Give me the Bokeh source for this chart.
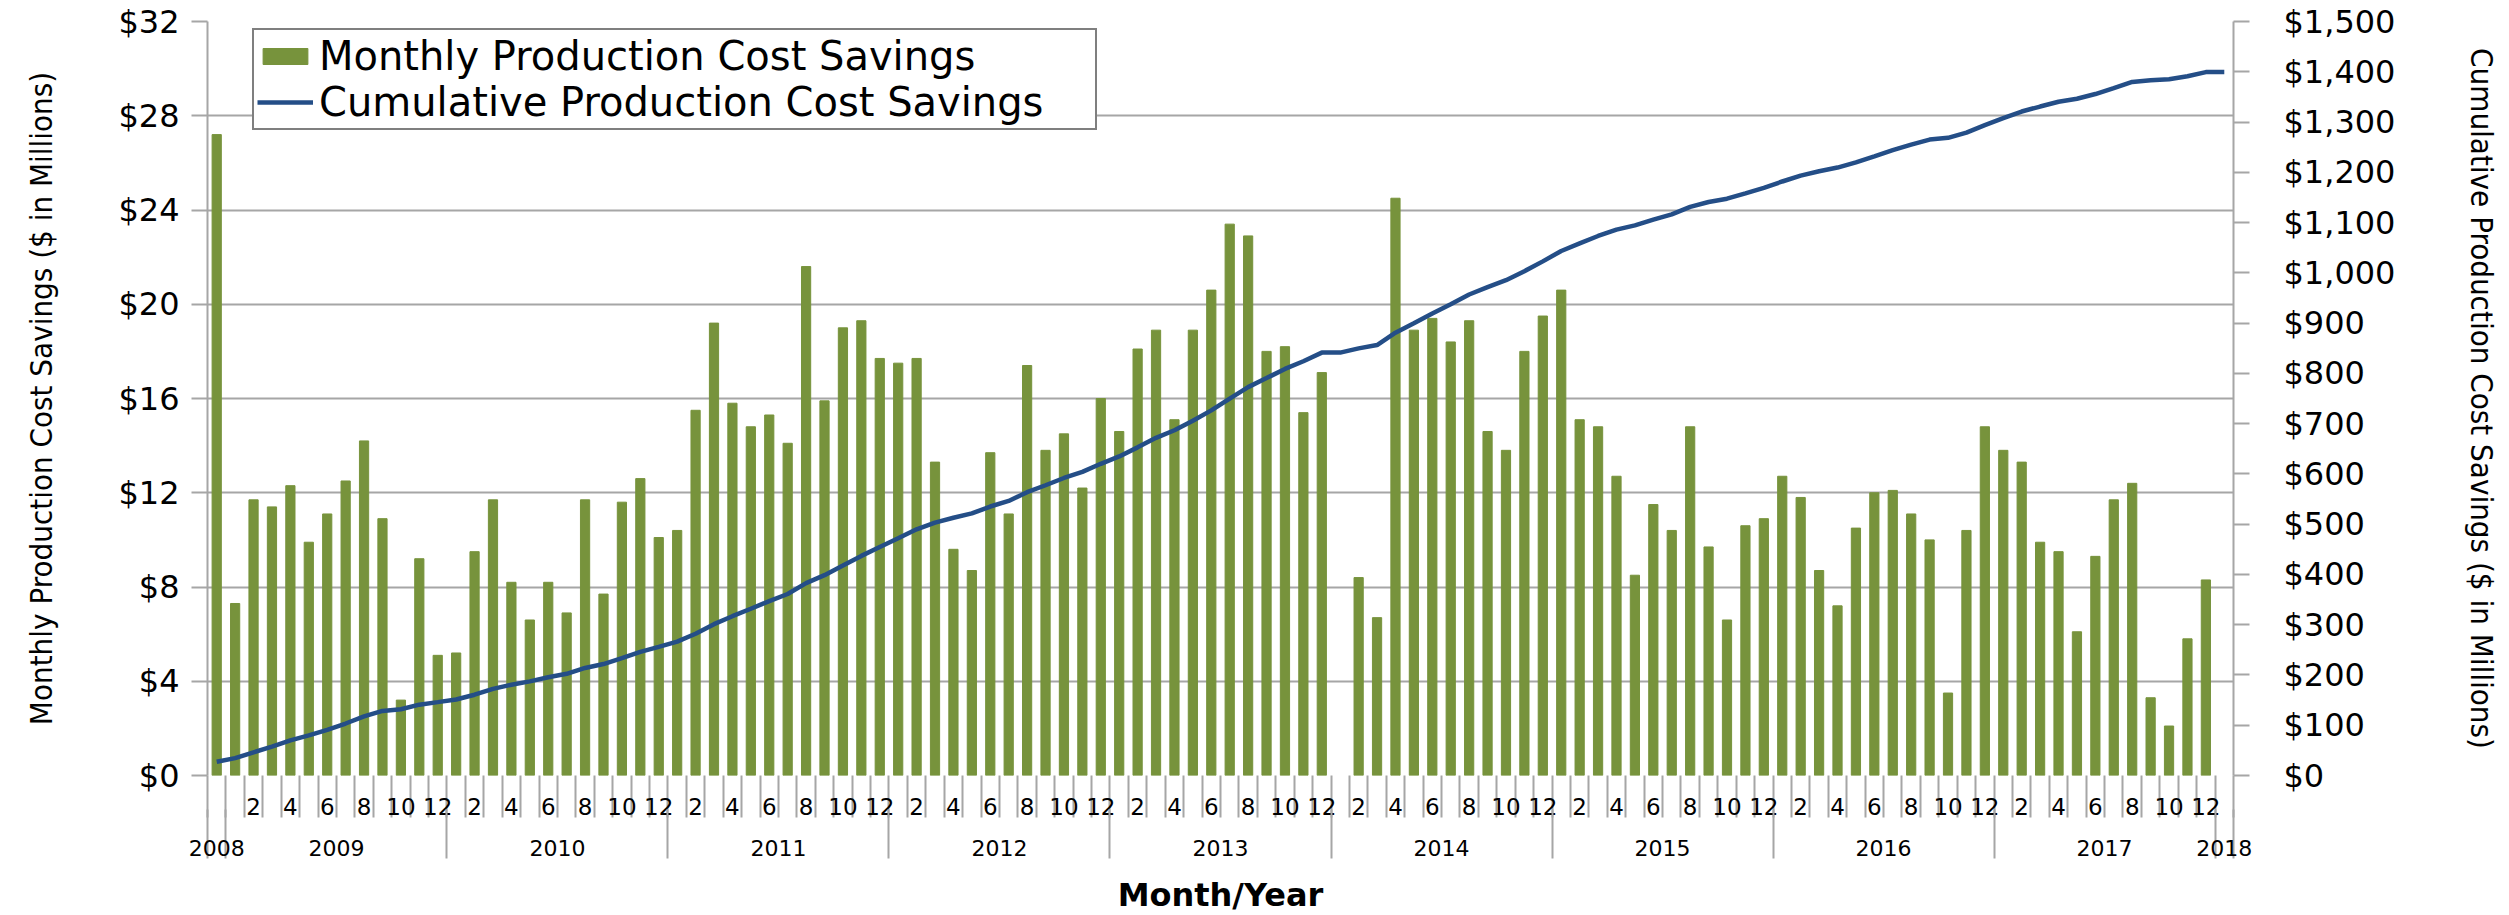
from bokeh.plotting import figure
from bokeh.models import (Range1d, LinearAxis, FixedTicker, NumeralTickFormatter,
                          CustomJSTickFormatter, ColumnDataSource, Legend, LegendItem)
from bokeh.embed import file_html
from bokeh.resources import INLINE

# ---------------- data ----------------
years = ["2008", "2009", "2010", "2011", "2012", "2013",
         "2014", "2015", "2016", "2017", "2018"]
month_tick_labels = ["2", "4", "6", "8", "10", "12"]

# monthly production cost savings ($ millions), one list per year
monthly_2008 = [27.2]                                   # December 2008 only
monthly_2009 = [7.3, 11.7, 11.4, 12.3, 9.9, 11.1, 12.5, 14.2, 10.9, 3.2, 9.2, 5.1]
monthly_2010 = [5.2, 9.5, 11.7, 8.2, 6.6, 8.2, 6.9, 11.7, 7.7, 11.6, 12.6, 10.1]
monthly_2011 = [10.4, 15.5, 19.2, 15.8, 14.8, 15.3, 14.1, 21.6, 15.9, 19.0, 19.3, 17.7]
monthly_2012 = [17.5, 17.7, 13.3, 9.6, 8.7, 13.7, 11.1, 17.4, 13.8, 14.5, 12.2, 16.0]
monthly_2013 = [14.6, 18.1, 18.9, 15.1, 18.9, 20.6, 23.4, 22.9, 18.0, 18.2, 15.4, 17.1]
monthly_2014 = [None, 8.4, 6.7, 24.5, 18.9, 19.4, 18.4, 19.3, 14.6, 13.8, 18.0, 19.5]
monthly_2015 = [20.6, 15.1, 14.8, 12.7, 8.5, 11.5, 10.4, 14.8, 9.7, 6.6, 10.6, 10.9]
monthly_2016 = [12.7, 11.8, 8.7, 7.2, 10.5, 12.0, 12.1, 11.1, 10.0, 3.5, 10.4, 14.8]
monthly_2017 = [13.8, 13.3, 9.9, 9.5, 6.1, 9.3, 11.7, 12.4, 3.3, 2.1, 5.8, 8.3]
monthly_2018 = [None]                                   # January 2018, no bar

# cumulative production cost savings ($ millions), one value per month slot
cumulative = [
    27.2,
    34.5, 46.2, 57.6, 69.9, 79.8, 90.9, 103.4, 117.6, 128.5, 131.7, 140.9, 146.0,
    151.2, 160.7, 172.4, 180.6, 187.2, 195.4, 202.3, 214.0, 221.7, 233.3, 245.9, 256.0,
    266.4, 281.9, 301.1, 316.9, 331.7, 347.0, 361.1, 382.7, 398.6, 417.6, 436.9, 454.6,
    472.1, 489.8, 503.1, 512.7, 521.4, 535.1, 546.2, 563.6, 577.4, 591.9, 604.1, 620.1,
    634.7, 652.8, 671.7, 686.8, 705.7, 726.3, 749.7, 772.6, 790.6, 808.8, 824.2, 841.3,
    841.3, 849.7, 856.4, 880.9, 899.8, 919.2, 937.6, 956.9, 971.5, 985.3, 1003.3, 1022.8,
    1043.4, 1058.5, 1073.3, 1086.0, 1094.5, 1106.0, 1116.4, 1131.2, 1140.9, 1147.5, 1158.1, 1169.0,
    1181.7, 1193.5, 1202.2, 1209.4, 1219.9, 1231.9, 1244.0, 1255.1, 1265.1, 1268.6, 1279.0, 1293.8,
    1307.6, 1320.9, 1330.8, 1340.3, 1346.4, 1355.7, 1367.4, 1379.8, 1383.1, 1385.2, 1391.0, 1399.3,
    1399.3,
]

left_ticks = [0, 4, 8, 12, 16, 20, 24, 28, 32]
right_ticks = [0, 100, 200, 300, 400, 500, 600, 700, 800, 900, 1000,
               1100, 1200, 1300, 1400, 1500]

# ---------------- derived layout ----------------
monthly_by_year = [monthly_2008, monthly_2009, monthly_2010, monthly_2011, monthly_2012,
                   monthly_2013, monthly_2014, monthly_2015, monthly_2016, monthly_2017,
                   monthly_2018]
monthly = []
for lst in monthly_by_year:
    monthly.extend([float("nan") if v is None else v for v in lst])
n_slots = len(monthly)                     # 110 month slots
slot_x = [i + 0.5 for i in range(n_slots)]

group_start, group_size = [], []
pos = 0
for lst in monthly_by_year:
    group_start.append(pos)
    group_size.append(len(lst))
    pos += len(lst)
year_x = [s + n / 2 for s, n in zip(group_start, group_size)]
year_edges = list(group_start) + [n_slots]          # long separators incl. both ends

mlab_x, mlab_t = [], []
for s, n in zip(group_start, group_size):
    if n == 12:
        for k, lab in enumerate(month_tick_labels):
            mlab_x.append(s + (2 * k + 1) + 0.5)
            mlab_t.append(lab)
month_edges = list(range(0, n_slots + 1))

GRID = "#A6A6A6"
GREEN = "#77933C"
BLUE = "#244E87"
TITLE_FONT = "DejaVu Sans Condensed, Liberation Sans Narrow, Liberation Sans"

p = figure(frame_width=2026, frame_height=754,
           x_range=Range1d(0, n_slots), y_range=Range1d(0, 32),
           output_backend="svg", toolbar_location=None, x_axis_location=None,
           min_border_left=207, min_border_right=274,
           min_border_top=21, min_border_bottom=138)
p.outline_line_color = None
p.background_fill_color = "white"
p.border_fill_color = "white"
p.xgrid.visible = False
p.ygrid.ticker = FixedTicker(ticks=left_ticks)
p.ygrid.grid_line_color = GRID
p.ygrid.grid_line_width = 2

p.extra_y_ranges = {"cum": Range1d(0, 1500)}

# ---- left axis
ya = p.yaxis[0]
ya.ticker = FixedTicker(ticks=left_ticks)
ya.formatter = NumeralTickFormatter(format="$0")
ya.axis_line_color = GRID
ya.axis_line_width = 2
ya.major_tick_line_color = GRID
ya.major_tick_line_width = 2
ya.major_tick_out = 16
ya.major_tick_in = 0
ya.minor_tick_line_color = None
ya.major_label_text_font = "DejaVu Sans"
ya.major_label_text_font_size = "32px"
ya.major_label_text_color = "black"
ya.major_label_standoff = 12
ya.axis_label = "Monthly Production Cost Savings ($ in Millions)"
ya.axis_label_text_font = TITLE_FONT
ya.axis_label_text_font_size = "31px"
ya.axis_label_text_font_style = "normal"
ya.axis_label_text_color = "black"
ya.axis_label_standoff = 56

# ---- right axis
ra = LinearAxis(y_range_name="cum", ticker=FixedTicker(ticks=right_ticks),
                formatter=NumeralTickFormatter(format="$0,0"))
ra.axis_line_color = GRID
ra.axis_line_width = 2
ra.major_tick_line_color = GRID
ra.major_tick_line_width = 2
ra.major_tick_out = 16
ra.major_tick_in = 0
ra.minor_tick_line_color = None
ra.major_label_text_font = "DejaVu Sans"
ra.major_label_text_font_size = "32px"
ra.major_label_text_color = "black"
ra.major_label_standoff = 34
ra.axis_label = "Cumulative Production Cost Savings ($ in Millions)"
ra.axis_label_text_font = TITLE_FONT
ra.axis_label_text_font_size = "31px"
ra.axis_label_text_font_style = "normal"
ra.axis_label_text_color = "black"
ra.axis_label_standoff = 66
p.add_layout(ra, "right")

# ---- month axis (short separators + even-month labels)
LABEL_JS = "const i = xs.indexOf(tick); return i >= 0 ? ts[i] : '';"
xm = LinearAxis(ticker=FixedTicker(ticks=mlab_x, minor_ticks=month_edges),
                formatter=CustomJSTickFormatter(args=dict(xs=mlab_x, ts=mlab_t), code=LABEL_JS))
xm.axis_line_color = None
xm.major_tick_line_color = None
xm.major_tick_out = 0
xm.major_tick_in = 0
xm.minor_tick_line_color = GRID
xm.minor_tick_line_width = 2
xm.minor_tick_out = 42
xm.minor_tick_in = 0
xm.major_label_text_font = "DejaVu Sans"
xm.major_label_text_font_size = "23px"
xm.major_label_text_color = "black"
xm.major_label_standoff = -20
p.add_layout(xm, "below")

# ---- year axis (long separators + year labels + title)
xy = LinearAxis(ticker=FixedTicker(ticks=year_x, minor_ticks=year_edges),
                formatter=CustomJSTickFormatter(args=dict(xs=year_x, ts=years), code=LABEL_JS))
xy.axis_line_color = None
xy.major_tick_line_color = None
xy.major_tick_out = 0
xy.major_tick_in = 0
xy.minor_tick_line_color = GRID
xy.minor_tick_line_width = 2
xy.minor_tick_in = 8
xy.minor_tick_out = 41
xy.major_label_text_font = "DejaVu Sans"
xy.major_label_text_font_size = "22px"
xy.major_label_text_color = "black"
xy.major_label_standoff = -19
xy.axis_label = "Month/Year"
xy.axis_label_text_font = "DejaVu Sans"
xy.axis_label_text_font_style = "bold"
xy.axis_label_text_font_size = "32px"
xy.axis_label_text_color = "black"
xy.axis_label_standoff = 17
p.add_layout(xy, "below")

# ---- data marks
src = ColumnDataSource(dict(x=slot_x, monthly=monthly, cum=cumulative))
bars = p.vbar(x="x", top="monthly", bottom=0, width=0.5, source=src,
              fill_color=GREEN, line_color=GREEN)
line = p.line(x="x", y="cum", source=src, y_range_name="cum",
              line_color=BLUE, line_width=4.5)

legend = Legend(items=[LegendItem(label="Monthly Production Cost Savings", renderers=[bars]),
                       LegendItem(label="Cumulative Production Cost Savings", renderers=[line])],
                location=(45, 645))
legend.label_text_font = "DejaVu Sans"
legend.label_text_font_size = "40px"
legend.label_text_color = "black"
legend.glyph_width = 56
legend.glyph_height = 20
legend.label_standoff = 6
legend.label_width = 773
legend.padding = 3
legend.spacing = 0
legend.margin = 0
legend.border_line_color = "black"
legend.border_line_width = 2
legend.background_fill_alpha = 1
p.add_layout(legend)

open("out.html", "w").write(file_html(p, INLINE))
